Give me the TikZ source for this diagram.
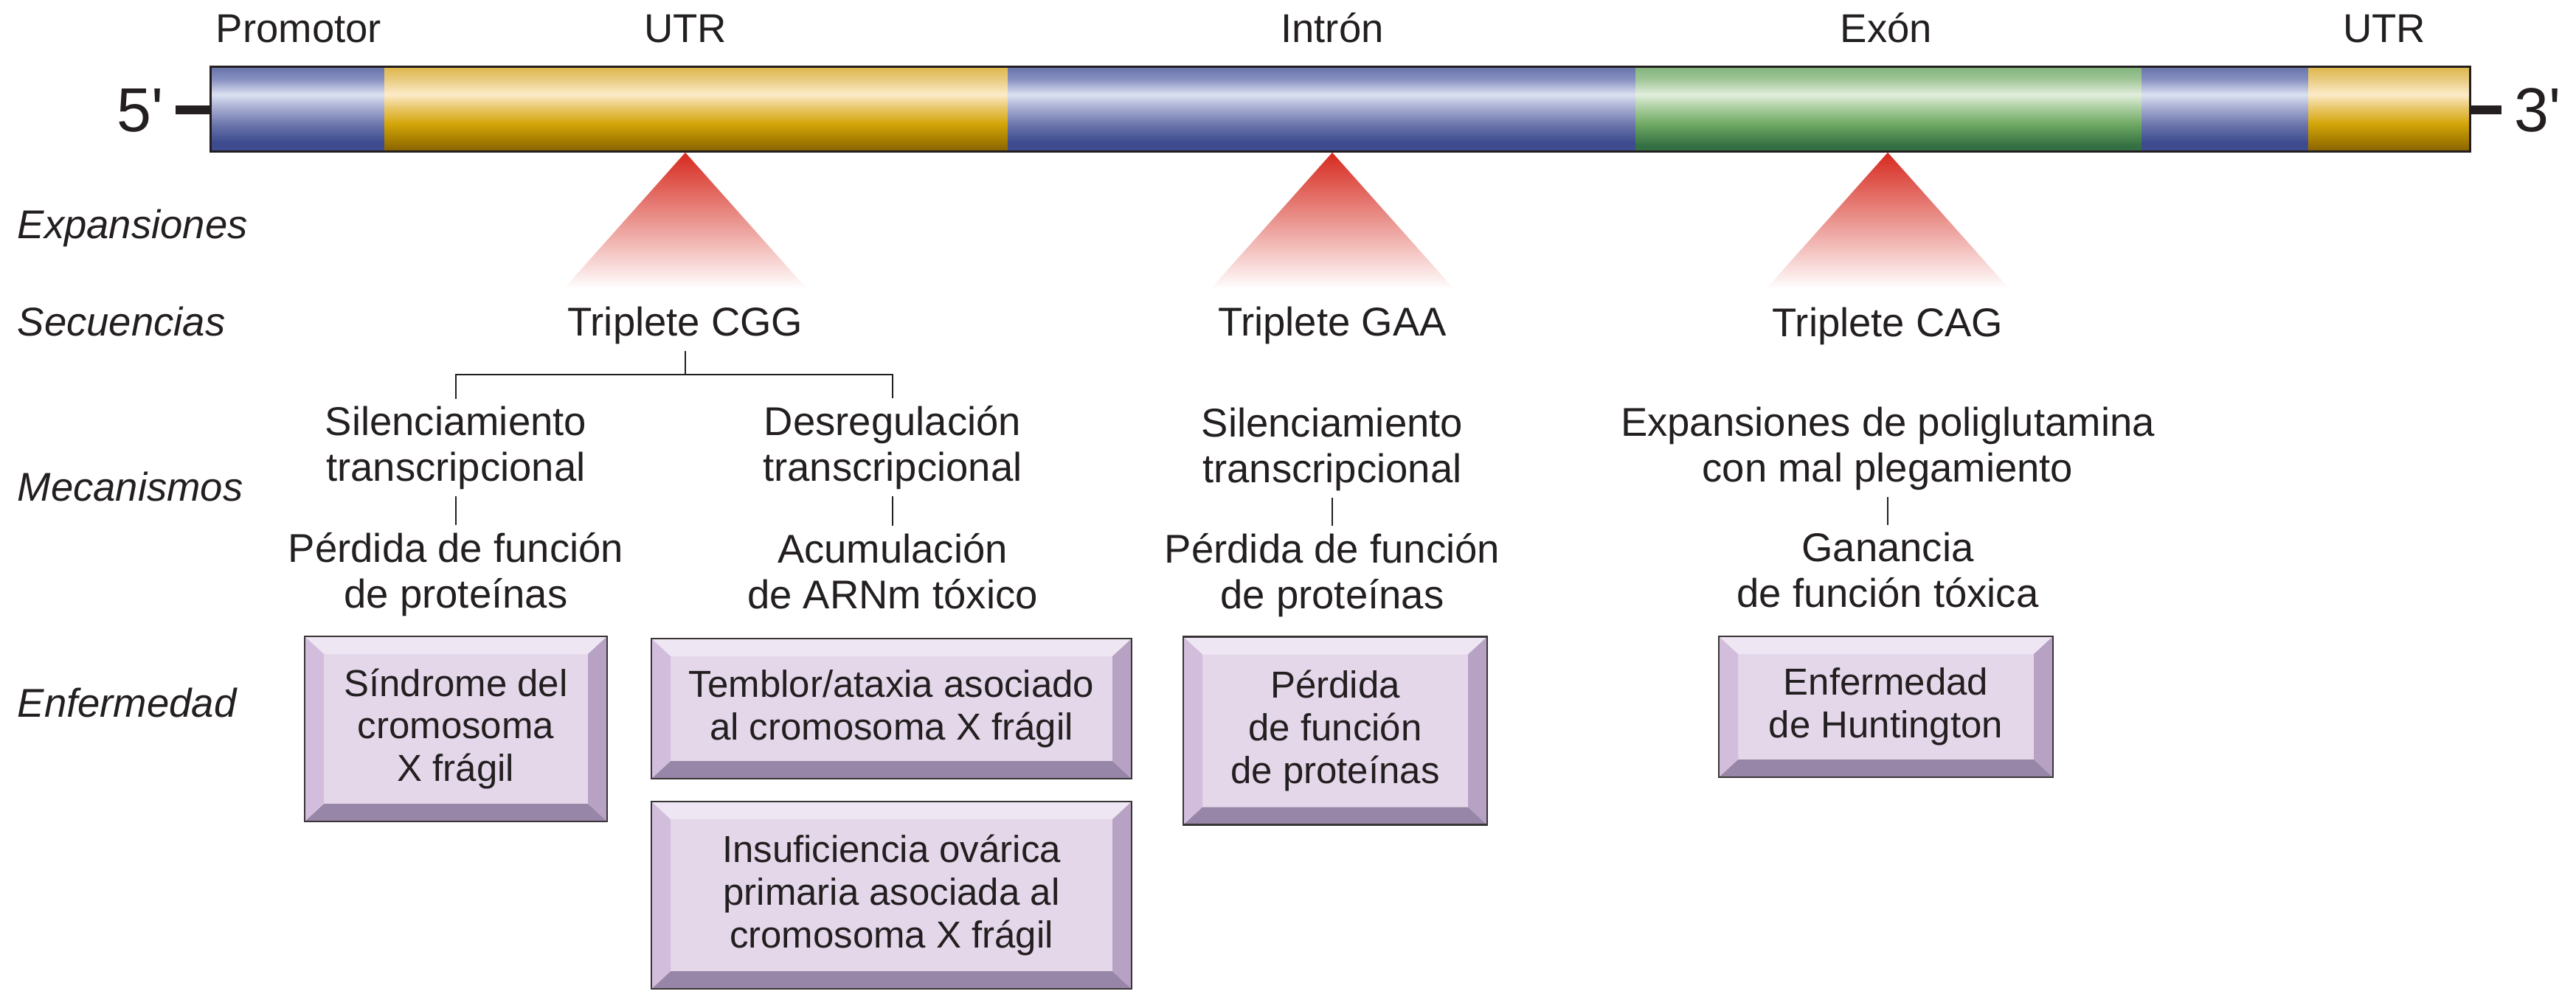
\documentclass[tikz,border=0pt]{standalone}
\usepackage{fontspec}
\setmainfont{Liberation Sans}
\usetikzlibrary{positioning}
\definecolor{inkBlack}{RGB}{35,31,32}
\definecolor{geneBlueTop}{HTML}{6470A8}
\definecolor{geneBlueUpper}{HTML}{8790C0}
\definecolor{geneBlueLight}{HTML}{DCE1F1}
\definecolor{geneBlueSoft}{HTML}{A5ACD0}
\definecolor{geneBlueMid}{HTML}{6A74AB}
\definecolor{geneBlueDark}{HTML}{3E4C8F}
\definecolor{geneGoldTop}{HTML}{DDB444}
\definecolor{geneGoldUpper}{HTML}{E9CB80}
\definecolor{geneGoldLight}{HTML}{FCEBC8}
\definecolor{geneGoldSoft}{HTML}{E8C668}
\definecolor{geneGoldMid}{HTML}{D4A60A}
\definecolor{geneGoldLow}{HTML}{A67D00}
\definecolor{geneGoldDark}{HTML}{8A6500}
\definecolor{geneGreenTop}{HTML}{7FB279}
\definecolor{geneGreenUpper}{HTML}{A0C597}
\definecolor{geneGreenLight}{HTML}{E2EEDD}
\definecolor{geneGreenSoft}{HTML}{A8CD9E}
\definecolor{geneGreenMid}{HTML}{6CA661}
\definecolor{geneGreenDark}{HTML}{357044}
\definecolor{expRed}{HTML}{D62A1F}
\definecolor{expSalmon}{HTML}{EB8A6C}
\definecolor{diseaseFace}{HTML}{E3D7E9}
\definecolor{diseaseTop}{HTML}{EEE7F3}
\definecolor{diseaseLeft}{HTML}{D2BEDC}
\definecolor{diseaseRight}{HTML}{B7A2C4}
\definecolor{diseaseBottom}{HTML}{9786A7}
\pgfdeclareverticalshading{geneBlue}{100bp}{color(0bp)=(geneBlueDark); color(30bp)=(geneBlueDark); color(40bp)=(geneBlueMid); color(50bp)=(geneBlueSoft); color(58bp)=(geneBlueLight); color(67bp)=(geneBlueUpper); color(75bp)=(geneBlueTop); color(100bp)=(geneBlueTop)}
\pgfdeclareverticalshading{geneGold}{100bp}{color(0bp)=(geneGoldDark); color(25bp)=(geneGoldDark); color(31bp)=(geneGoldLow); color(41bp)=(geneGoldMid); color(50bp)=(geneGoldSoft); color(58bp)=(geneGoldLight); color(67bp)=(geneGoldUpper); color(75bp)=(geneGoldTop); color(100bp)=(geneGoldTop)}
\pgfdeclareverticalshading{geneGreen}{100bp}{color(0bp)=(geneGreenDark); color(28bp)=(geneGreenDark); color(40bp)=(geneGreenMid); color(50bp)=(geneGreenSoft); color(58bp)=(geneGreenLight); color(67bp)=(geneGreenUpper); color(75bp)=(geneGreenTop); color(100bp)=(geneGreenTop)}
\newcommand{\mainsz}{\fontsize{15.5}{17.6}\selectfont}
\newcommand{\boxsz}{\fontsize{14.5}{16.5}\selectfont}

\begin{document}
\begin{tikzpicture}[
  segtitle/.style={font=\mainsz, text=inkBlack, anchor=base, inner sep=0},
  rowtitle/.style={font=\mainsz\itshape, text=inkBlack, anchor=base west, inner sep=0},
  triplet/.style={font=\mainsz, text=inkBlack, anchor=base, inner sep=0.09cm},
  mech/.style={font=\mainsz, text=inkBlack, align=center, anchor=base, inner sep=0.09cm},
  endlabel/.style={font=\fontsize{24}{26}\selectfont, text=inkBlack, anchor=base, inner ysep=0},
  endtick/.style={inkBlack, line width=0.12cm},
  link/.style={inkBlack, line width=0.8pt},
  expfade/.style={top color=expRed, middle color=expSalmon, bottom color=white},
  disease/.style={
    draw=inkBlack!90,
    line width=0.6pt,
    fill=diseaseFace,
    align=center,
    inner sep=0pt,
    font=\boxsz,
    text=inkBlack,
    path picture={
      \coordinate (bnw) at (path picture bounding box.north west);
      \coordinate (bne) at (path picture bounding box.north east);
      \coordinate (bsw) at (path picture bounding box.south west);
      \coordinate (bse) at (path picture bounding box.south east);
      \coordinate (inw) at ([shift={(0.26,-0.24)}]bnw);
      \coordinate (ine) at ([shift={(-0.26,-0.24)}]bne);
      \coordinate (isw) at ([shift={(0.26,0.24)}]bsw);
      \coordinate (ise) at ([shift={(-0.26,0.24)}]bse);
      \fill[diseaseTop] (bnw) -- (bne) -- (ine) -- (inw) -- cycle;
      \fill[diseaseBottom] (bsw) -- (bse) -- (ise) -- (isw) -- cycle;
      \fill[diseaseLeft] (bnw) -- (inw) -- (isw) -- (bsw) -- cycle;
      \fill[diseaseRight] (bne) -- (ine) -- (ise) -- (bse) -- cycle;
    }
  }
]
  \useasboundingbox (0,0) rectangle (34.92,-13.47);

  % gene
  \foreach \xa/\xb/\band in {2.84/5.21/geneBlue, 5.21/13.66/geneGold, 13.66/22.17/geneBlue,
                             22.17/29.03/geneGreen, 29.03/31.29/geneBlue, 31.29/33.47/geneGold}
    \shade[shading=\band] (\xa,-0.89) rectangle (\xb,-2.04);
  \node[draw=inkBlack, line width=0.8pt, minimum width=30.63cm, minimum height=1.15cm,
        inner sep=0, anchor=north west] (gene) at (2.84,-0.89) {};
  \foreach \x/\name [count=\i] in {4.05/Promotor, 9.29/UTR, 18.06/Intrón, 25.57/Exón, 32.32/UTR}
    \node[segtitle] (seg\i) at (\x,-0.57) {\name};

  \node[endlabel, inner xsep=0.16cm] (five) at (1.90,-1.78) {5\textquotesingle};
  \node[endlabel, inner xsep=0.17cm] (three) at (34.40,-1.78) {3\textquotesingle};
  \draw[endtick] (five.east) -- (five.east -| gene.west);
  \draw[endtick] (three.west) -- (three.west -| gene.east);

  % row titles
  \node[rowtitle] (rowexp) at (0.23,-3.23) {Expansiones};
  \node[rowtitle] (rowseq) at (0.23,-4.55) {Secuencias};
  \node[rowtitle] (rowmec) at (0.23,-6.79) {Mecanismos};
  \node[rowtitle] (rowdis) at (0.23,-9.72) {Enfermedad};

  % triplets
  \node[triplet] (cgg) at (9.29,-4.55) {Triplete CGG};
  \node[triplet] (gaa) at (18.06,-4.55) {Triplete GAA};
  \node[triplet] (cag) at (25.59,-4.56) {Triplete CAG};

  \shade[expfade] (cgg |- gene.south) -- ++(-1.65,-1.85) -- ++(3.3,0) -- cycle;
  \shade[expfade] (gaa |- gene.south) -- ++(-1.65,-1.85) -- ++(3.3,0) -- cycle;
  \shade[expfade] (cag |- gene.south) -- ++(-1.65,-1.85) -- ++(3.3,0) -- cycle;

  % mechanisms (base = last line)
  \node[mech] (silA) at (6.18,-6.52) {Silenciamiento\\transcripcional};
  \node[mech] (perA) at (6.18,-8.24) {Pérdida de función\\de proteínas};
  \node[mech] (desB) at (12.10,-6.52) {Desregulación\\transcripcional};
  \node[mech] (acuB) at (12.10,-8.25) {Acumulación\\de ARNm tóxico};
  \node[mech] (silC) at (18.06,-6.54) {Silenciamiento\\transcripcional};
  \node[mech] (perC) at (18.06,-8.25) {Pérdida de función\\de proteínas};
  \node[mech] (polD) at (25.59,-6.53) {Expansiones de poliglutamina\\con mal plegamiento};
  \node[mech] (ganD) at (25.59,-8.23) {Ganancia\\de función tóxica};

  \coordinate (fork) at (9.29,-5.08);
  \draw[link] (cgg.south) -- (fork);
  \draw[link] (silA.north) |- (fork) -| (desB.north);
  \draw[link] (silA) -- (perA);
  \draw[link] (desB) -- (acuB);
  \draw[link] (silC) -- (perC);
  \draw[link] (polD) -- (ganD);

  % diseases
  \node[disease, minimum width=4.10cm, minimum height=2.51cm] (sfx) at (6.18,-9.885)
    {Síndrome del\\cromosoma\\X frágil};
  \node[disease, minimum width=6.51cm, minimum height=1.90cm] (txa) at (12.085,-9.61)
    {Temblor/ataxia asociado\\al cromosoma X frágil};
  \node[disease, minimum width=6.51cm, minimum height=2.54cm, below=0.29cm of txa] (poi)
    {Insuficiencia ovárica\\primaria asociada al\\cromosoma X frágil};
  \node[disease, minimum width=4.12cm, minimum height=2.55cm] (pfp) at (18.10,-9.91)
    {Pérdida\\de función\\de proteínas};
  \node[disease, minimum width=4.53cm, minimum height=1.91cm] (hd) at (25.565,-9.585)
    {Enfermedad\\de Huntington};
\end{tikzpicture}
\end{document}
